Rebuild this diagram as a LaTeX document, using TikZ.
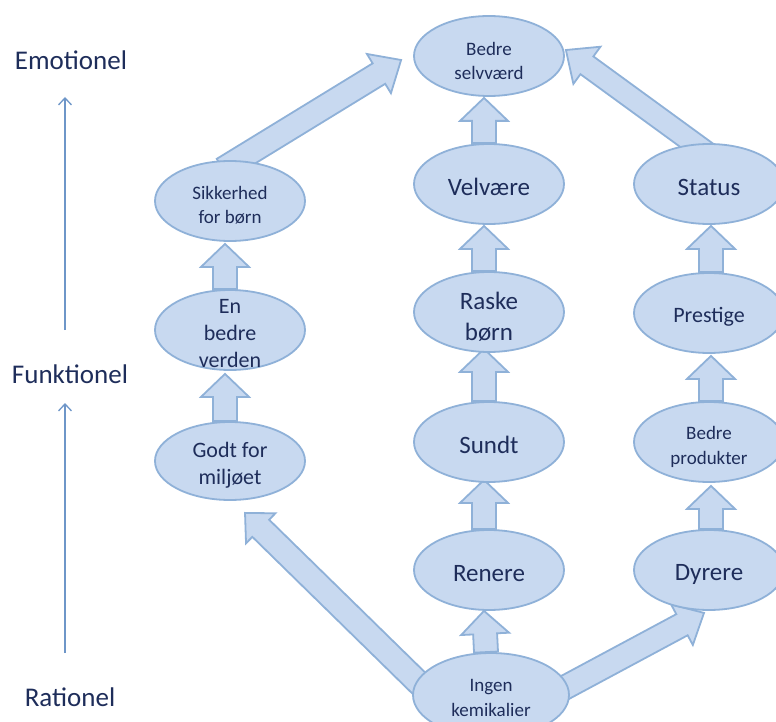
\documentclass[tikz,border=0pt]{standalone}
\usepackage{fontspec}
\setmainfont{Carlito}
\usetikzlibrary{shapes.geometric,calc,arrows.meta}
\definecolor{ovalfill}{RGB}{200,217,240}
\definecolor{ovaldraw}{RGB}{143,177,216}
\definecolor{txtcol}{RGB}{30,45,90}
\definecolor{axiscol}{RGB}{110,150,200}
\pgfdeclarelayer{bg}
\pgfsetlayers{bg,main}
% #1 name, #2 tail, #3 tip, #4 shaft half width, #5 head half width, #6 head length
\newcommand{\blockarr}[6]{%
  \coordinate (#1-a) at (#2);
  \coordinate (#1-b) at (#3);
  \coordinate (#1-c) at ($(#1-b)!#6!(#1-a)$);
  \filldraw[blockarrow] ($(#1-a)!#4!90:(#1-b)$) -- ($(#1-c)!#4!90:(#1-b)$) -- ($(#1-c)!#5!90:(#1-b)$) -- (#1-b)
    -- ($(#1-c)!#5!-90:(#1-b)$) -- ($(#1-c)!#4!-90:(#1-b)$) -- ($(#1-a)!#4!-90:(#1-b)$) -- cycle;
}
\begin{document}
\begin{tikzpicture}[x=1pt,y=-1pt,
  oval/.style={ellipse,draw=ovaldraw,fill=ovalfill,line width=1.8pt,minimum width=150pt,minimum height=80pt,inner sep=0pt},
  txt/.style={text=txtcol,align=center,inner sep=0pt},
  big/.style={font=\fontsize{25}{31}\selectfont},
  mid/.style={font=\fontsize{22}{27}\selectfont},
  small/.style={font=\fontsize{19}{24.5}\selectfont},
  lab/.style={font=\fontsize{27}{32}\selectfont},
  blockarrow/.style={draw=ovaldraw,fill=ovalfill,line width=1.8pt,line join=miter},
  axis/.style={draw=axiscol,line width=1.3pt,-{Straight Barb[length=7pt,width=13pt]}}]
\clip (0,0) rectangle (776,722);

% ellipses
\node[oval] (selv) at (489,56) {};
\node[oval] (velv) at (489,184) {};
\node[oval] (status) at (709,184) {};
\node[oval] (sik) at (230,201) {};
\node[oval] (raske) at (489,312) {};
\node[oval] (prest) at (709,313) {};
\node[oval] (verden) at (230,330) {};
\node[oval] (sundt) at (489,442) {};
\node[oval] (bprod) at (709,442) {};
\node[oval,minimum height=78pt] (godt) at (230,461) {};
\node[oval] (renere) at (489,570) {};
\node[oval] (dyrere) at (709,570) {};
\node[oval,minimum width=156pt,minimum height=84pt] (ingen) at (491,695) {};

% texts
\node[txt,small] (selvT) at ([yshift=-5pt]selv.center) {Bedre\\selvværd};
\node[txt,big] (velvT) at ([yshift=-3pt]velv.center) {Velvære};
\node[txt,big] (statusT) at ([yshift=-3pt]status.center) {Status};
\node[txt,small] (sikT) at ([yshift=-4pt]sik.center) {Sikkerhed\\for børn};
\node[txt,big] (raskeT) at ([yshift=-5pt]raske.center) {Raske\\børn};
\node[txt,mid] (prestT) at ([yshift=-4pt]prest.center) {Prestige};
\node[txt,mid] (verdenT) at ([yshift=-4pt]verden.center) {En\\bedre\\verden};
\node[txt,big] (sundtT) at ([yshift=-3pt]sundt.center) {Sundt};
\node[txt,small] (bprodT) at ([yshift=-5pt]bprod.center) {Bedre\\produkter};
\node[txt,mid] (godtT) at ([yshift=-4pt]godt.center) {Godt for\\miljøet};
\node[txt,big] (renereT) at ([yshift=-4pt]renere.center) {Renere};
\node[txt,big] (dyrereT) at ([yshift=-4pt]dyrere.center) {Dyrere};
\node[txt,small] (ingenT) at ([yshift=-3pt]ingen.center) {Ingen\\kemikalier};

% block arrows behind ellipses
\begin{pgfonlayer}{bg}
\blockarr{a1}{[xshift=-5pt]velv.north}{[xshift=-5pt,yshift=-1pt]selv.south}{12pt}{24pt}{23pt}
\blockarr{a2}{[xshift=-5pt]raske.north}{[xshift=-5pt,yshift=-1pt]velv.south}{12pt}{24pt}{23pt}
\blockarr{a3}{[xshift=-5pt]sundt.north}{[xshift=-5pt,yshift=4pt]raske.south}{12pt}{24pt}{23pt}
\blockarr{a4}{[xshift=-5pt]renere.north}{[xshift=-5pt,yshift=3pt]sundt.south}{12pt}{24pt}{23pt}
\blockarr{a5}{[xshift=-5pt]ingen.north}{[xshift=-5pt]renere.south}{12pt}{24pt}{23pt}
\blockarr{a6}{[xshift=-5pt]verden.north}{[xshift=-5pt,yshift=-2pt]sik.south}{12pt}{24pt}{23pt}
\blockarr{a7}{[xshift=-5pt]godt.north}{[xshift=-5pt,yshift=-3pt]verden.south}{12pt}{24pt}{23pt}
\blockarr{a8}{[xshift=2pt]prest.north}{[xshift=2pt,yshift=-1pt]status.south}{12pt}{24pt}{23pt}
\blockarr{a9}{[xshift=2pt]bprod.north}{[xshift=2pt,yshift=-2pt]prest.south}{12pt}{24pt}{23pt}
\blockarr{a10}{[xshift=2pt]dyrere.north}{[xshift=2pt,yshift=-3pt]bprod.south}{12pt}{24pt}{23pt}
\blockarr{d1}{[xshift=-7pt,yshift=-9pt]sik.north}{[xshift=-12pt,yshift=-4pt]selv.west}{12pt}{23pt}{26pt}
\blockarr{d2}{[xshift=-3pt,yshift=-9pt]status.north}{[xshift=1pt,yshift=6pt]selv.east}{11pt}{23pt}{26pt}
\blockarr{d3}{[xshift=-60pt]ingen.center}{[xshift=15pt,yshift=-12pt]godt.south}{12pt}{21pt}{22pt}
\blockarr{d4}{[xshift=60pt]ingen.center}{[xshift=-5pt,yshift=-2pt]dyrere.south}{12pt}{23pt}{25pt}
\end{pgfonlayer}

% axis
\node[txt,lab] (emo) at (71,60) {Emotionel};
\node[txt,lab] (funk) at (70,374) {Funktionel};
\node[txt,lab] (rat) at (70,697) {Rationel};
\coordinate (ax1) at (65,653);
\coordinate (ax2) at (65,403);
\coordinate (ax3) at (65,330);
\coordinate (ax4) at (65,97);
\draw[axis] (ax1) -- (ax2);
\draw[axis] (ax3) -- (ax4);
\end{tikzpicture}
\end{document}
